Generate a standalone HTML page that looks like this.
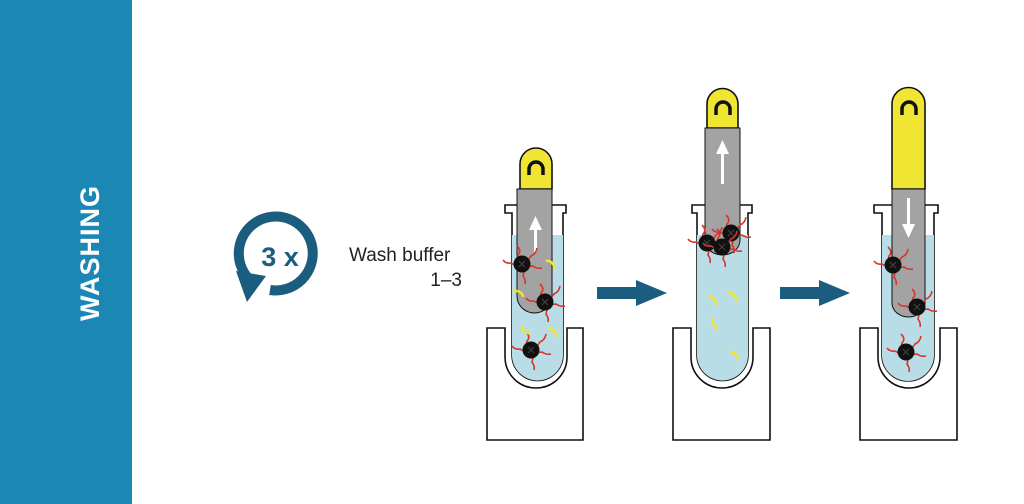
<!DOCTYPE html>
<html><head><meta charset="utf-8"><style>
html,body{margin:0;padding:0;background:#fff;width:1024px;height:504px;overflow:hidden}
</style></head><body>
<svg width="1024" height="504" viewBox="0 0 1024 504" xmlns="http://www.w3.org/2000/svg">
<defs>
  <g id="bead">
    <g stroke="#d8342a" stroke-width="1.6" fill="none">
      <path d="M0 0 q-6 -4 -4 -9 q4 -4 -1 -9 M0 0 q6 -3 9 -8 q5 -2 6 -8"/>
      <path d="M0 0 q-7 2 -11 -1 q-5 1 -8 -3 M0 0 q3 7 1 12 q3 4 2 8"/>
      <path d="M0 0 q7 3 11 2 q4 3 9 2"/>
    </g>
    <circle r="8.5" fill="#111"/>
    <path d="M-3 -3 l6 6 M3 -3 l-6 6" stroke="#444" stroke-width="1"/>
  </g>
  <path id="cres" d="M-5 -4 a7 7 0 0 1 8 8" stroke="#f1e534" stroke-width="2.5" fill="none"/>
</defs>
<rect x="0" y="0" width="132" height="504" fill="#1b87b5"/>
<text transform="translate(99,253) rotate(-90)" text-anchor="middle" font-family="Liberation Sans, sans-serif" font-weight="bold" font-size="27" fill="#fff" letter-spacing="1">WASHING</text>

<!-- cycle icon -->
<path d="M249 279 A37 37 0 1 1 270 290" stroke="#1a5d7e" stroke-width="10" fill="none"/>
<polygon points="236,271 266,276 247,302" fill="#1a5d7e"/>
<text x="280" y="266" text-anchor="middle" font-family="Liberation Sans, sans-serif" font-weight="bold" font-size="27" fill="#1a5d7e">3 x</text>
<text x="349" y="261" font-family="Liberation Sans, sans-serif" font-size="19" fill="#222">Wash buffer</text>
<text x="462" y="286" text-anchor="end" font-family="Liberation Sans, sans-serif" font-size="19" fill="#222">1–3</text>

<!-- arrows -->
<polygon points="597,287 636,287 636,280 667,293 636,306 636,299 597,299" fill="#1a5d7e"/>
<polygon points="780,287 819,287 819,280 850,293 819,306 819,299 780,299" fill="#1a5d7e"/>

<!-- TUBE 1 -->
<g stroke="#111" stroke-width="1.6">
  <path d="M487 328 H505 V357 A31 31 0 0 0 567 357 V328 H583 V440 H487 Z" fill="#fff"/>
  <path d="M505 205 H566 V213 H563 V355 A25.5 25.5 0 0 1 512 355 V213 H505 Z" fill="#fff"/>
  <path d="M512 235 H563 V355 A25.5 25.5 0 0 1 512 355 Z" fill="#b9dde6" stroke="none"/>
  <path d="M520 189 V164 A16 16 0 0 1 552 164 V189 Z" fill="#f1e534"/>
  <path d="M517 189 H552 V296 A17.5 17 0 0 1 517 296 Z" fill="#a3a3a3" stroke-width="1"/>
</g>
<path d="M529 175 v-6 a7 7 0 0 1 14 0 v6" stroke="#111" stroke-width="3.5" fill="none"/>
<rect x="534" y="228" width="3" height="24" fill="#fff"/><polygon points="529,230 542,230 535.5,216" fill="#fff"/>
<use href="#bead" x="522" y="264"/><use href="#bead" x="545" y="302"/><use href="#bead" x="531" y="350"/>
<use href="#cres" x="551" y="265"/><use href="#cres" x="519" y="294" transform="rotate(-20 519 294)"/>
<use href="#cres" x="525" y="329" transform="rotate(180 525 329)"/><use href="#cres" x="553" y="333"/>

<!-- TUBE 2 -->
<g stroke="#111" stroke-width="1.6">
  <path d="M673 328 H691 V357 A31 31 0 0 0 753 357 V328 H770 V440 H673 Z" fill="#fff"/>
  <path d="M692 205 H752 V213 H748 V355 A25.5 25.5 0 0 1 697 355 V213 H692 Z" fill="#fff"/>
  <path d="M697 235 H748 V355 A25.5 25.5 0 0 1 697 355 Z" fill="#b9dde6" stroke="none"/>
  <path d="M707 128 V104 A15.5 15.5 0 0 1 738 104 V128 Z" fill="#f1e534"/>
  <path d="M705 128 H740 V240 A17.5 15 0 0 1 705 240 Z" fill="#a3a3a3" stroke-width="1"/>
</g>
<path d="M716 115 v-6 a7 7 0 0 1 14 0 v6" stroke="#111" stroke-width="3.5" fill="none"/>
<rect x="721" y="152" width="3" height="32" fill="#fff"/><polygon points="716,154 729,154 722.5,140" fill="#fff"/>
<use href="#bead" x="707" y="243"/><use href="#bead" x="731" y="233"/><use href="#bead" x="722" y="247"/>
<use href="#cres" x="713" y="301"/><use href="#cres" x="733" y="297"/><use href="#cres" x="715" y="323" transform="rotate(200 715 323)"/><use href="#cres" x="734" y="356"/>

<!-- TUBE 3 -->
<g stroke="#111" stroke-width="1.6">
  <path d="M860 328 H878 V357 A31 31 0 0 0 940 357 V328 H957 V440 H860 Z" fill="#fff"/>
  <path d="M874 205 H938 V213 H934 V355 A26 26 0 0 1 882 355 V213 H874 Z" fill="#fff"/>
  <path d="M882 235 H934 V355 A26 26 0 0 1 882 355 Z" fill="#b9dde6" stroke="none"/>
  <path d="M892 189 V104 A16.5 16.5 0 0 1 925 104 V189 Z" fill="#f1e534"/>
  <path d="M892 189 H925 V303 A16.5 14 0 0 1 892 303 Z" fill="#a3a3a3" stroke-width="1"/>
</g>
<path d="M902 115 v-6 a7 7 0 0 1 14 0 v6" stroke="#111" stroke-width="3.5" fill="none"/>
<rect x="907" y="198" width="3" height="28" fill="#fff"/><polygon points="902,224 915,224 908.5,238" fill="#fff"/>
<use href="#bead" x="893" y="265"/><use href="#bead" x="917" y="307"/><use href="#bead" x="906" y="352"/>
</svg>
</body></html>
